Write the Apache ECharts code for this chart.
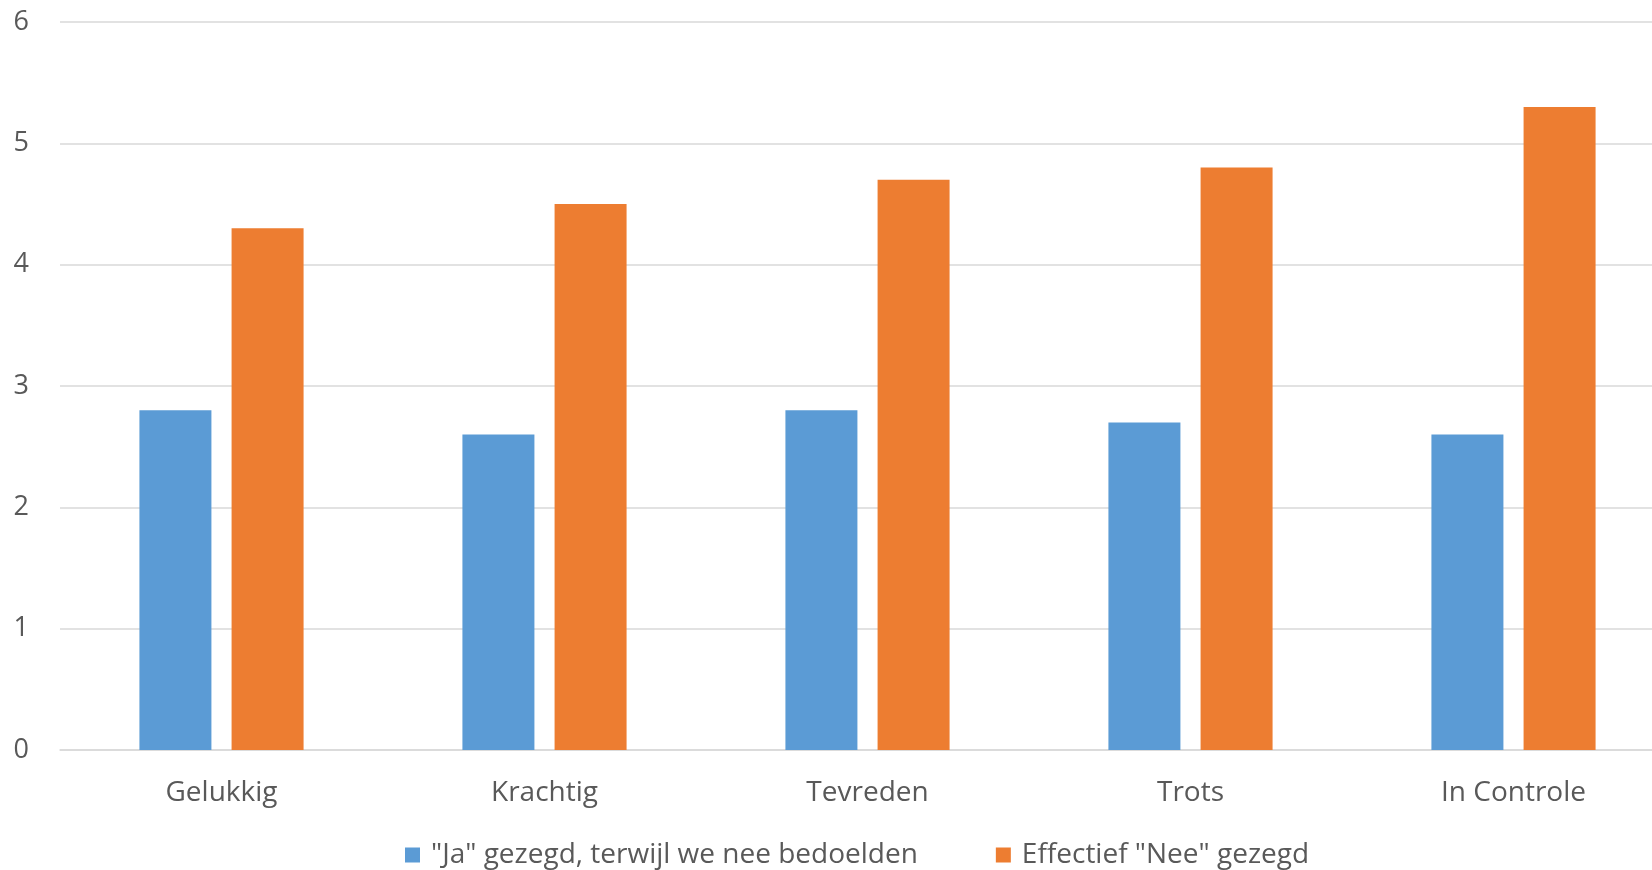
<!DOCTYPE html>
<html>
<head>
<meta charset="utf-8">
<title>Gelukkig, krachtig, tevreden</title>
<script src="https://cdn.jsdelivr.net/npm/echarts@6/dist/echarts.min.js"></script>
<style>
  html, body { margin: 0; padding: 0; background: #ffffff; overflow: hidden; }
  /* the plot area runs slightly past the right edge of the window */
  #chart { width: 1675px; height: 870px; }
</style>
</head>
<body>
<div id="chart"></div>
<script>
// Categories and the two answer series
const categories = ['Gelukkig', 'Krachtig', 'Tevreden', 'Trots', 'In Controle'];
const seriesNames = ['"Ja" gezegd, terwijl we nee bedoelden', 'Effectief "Nee" gezegd'];
const jaValues = [2.8, 2.6, 2.8, 2.7, 2.6];
const neeValues = [4.3, 4.5, 4.7, 4.8, 5.3];
const yTicks = [0, 1, 2, 3, 4, 5, 6];

const fontFamily = '"Open Sans", "Noto Sans", sans-serif';
const textColor = '#595959';
const gridColor = '#d9d9d9';

const chart = echarts.init(document.getElementById('chart'));
chart.setOption({
  backgroundColor: '#ffffff',
  animation: false,
  textStyle: { fontFamily: fontFamily },
  grid: { left: 60, top: 22, bottom: 120, right: 0, containLabel: false },
  legend: {
    data: seriesNames,
    left: 400,
    top: 836,
    icon: 'rect',
    itemWidth: 15,
    itemHeight: 15,
    itemGap: 78,
    textStyle: {
      color: textColor,
      fontSize: 28,
      fontFamily: fontFamily,
      lineHeight: 28,
      padding: [0, 0, 0, 6]
    }
  },
  xAxis: {
    type: 'category',
    data: categories,
    axisLine: { show: true, lineStyle: { color: gridColor, width: 1.5 } },
    axisTick: { show: false },
    axisLabel: {
      color: textColor,
      fontSize: 28,
      fontFamily: fontFamily,
      lineHeight: 28,
      margin: 29
    }
  },
  yAxis: {
    type: 'value',
    min: yTicks[0],
    max: yTicks[yTicks.length - 1],
    interval: 1,
    axisLine: { show: false },
    axisTick: { show: false },
    splitLine: { lineStyle: { color: gridColor, width: 1.5 } },
    axisLabel: {
      color: textColor,
      fontSize: 27,
      fontFamily: fontFamily,
      margin: 31
    }
  },
  series: [
    {
      name: seriesNames[0],
      type: 'bar',
      data: jaValues,
      barWidth: 72,
      barGap: '28%',
      itemStyle: { color: '#5b9bd5' }
    },
    {
      name: seriesNames[1],
      type: 'bar',
      data: neeValues,
      barWidth: 72,
      barGap: '28%',
      itemStyle: { color: '#ed7d31' }
    }
  ]
});
</script>
</body>
</html>
